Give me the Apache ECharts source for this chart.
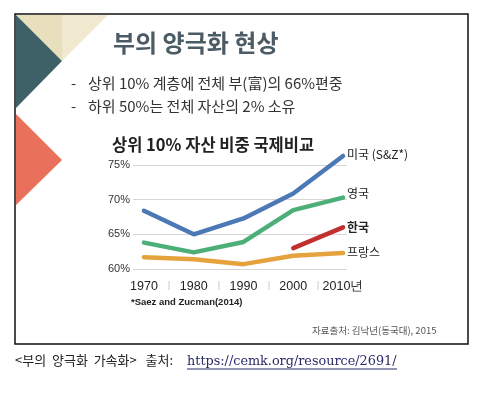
<!DOCTYPE html>
<html><head><meta charset="utf-8">
<script src="https://cdn.jsdelivr.net/npm/echarts@6/dist/echarts.min.js"></script>
<style>html,body{margin:0;padding:0;background:#fff}#c{width:483px;height:393px}</style>
</head><body><div id="c"></div>
<script>
const years = [1970, 1980, 1990, 2000, 2010];
const usa = [68.4, 65.0, 67.3, 70.9, 76.3];
const uk = [63.8, 62.4, 63.9, 68.5, 70.3];
const korea = [null, null, null, 63.0, 66.0];
const france = [61.7, 61.4, 60.7, 61.9, 62.3];
const seriesNames = ['미국 (S&Z*)', '영국', '한국', '프랑스'];
const yTicks = [60, 65, 70, 75];
const xSeparators = [1975, 1985, 1995, 2005];

const F = '"Noto Sans CJK KR", "Noto Sans", sans-serif';
const chart = echarts.init(document.getElementById('c'));
function pairs(arr){ return years.map((y,i)=>[y, arr[i]]).filter(p=>p[1]!=null); }
function mk(name, data, color, bold, dy){
  return {
    type:'line', name, data:pairs(data), symbol:'none', clip:false,
    lineStyle:{color, width:4.5, cap:'round'}, itemStyle:{color},
    endLabel:{show:true, formatter:name, distance:4, offset:[0,dy],
      color:'#222', fontFamily:F, fontSize:12, fontWeight: bold?'bold':'normal'}
  };
}
chart.setOption({
  animation:false,
  grid:{left:133, right:136, top:165, bottom:124},
  xAxis:[{
    type:'value', min:1967.8, max:2010.8,
    axisLine:{show:false}, axisTick:{show:false}, splitLine:{show:false},
    axisLabel:{customValues:years, margin:11, color:'#222', fontFamily:'Arial, "Liberation Sans", sans-serif', fontSize:12.5,
      formatter:v=> v===2010 ? '2010년' : String(v)}
  },{
    type:'value', min:1967.8, max:2010.8, position:'bottom', offset:12,
    axisLine:{show:false}, splitLine:{show:false}, axisLabel:{show:false},
    axisTick:{show:true, customValues:xSeparators, length:9, lineStyle:{color:'#ddd', width:1.5}}
  }],
  yAxis:{
    type:'value', min:60, max:75, interval:5,
    axisLine:{show:false}, axisTick:{show:false},
    splitLine:{lineStyle:{color:'#d6d6d6', width:1}},
    axisLabel:{customValues:yTicks, margin:3, color:'#333', fontFamily:'Arial, "Liberation Sans", sans-serif', fontSize:11, formatter:'{value}%'}
  },
  series:[
    mk(seriesNames[0], usa, '#4a79b6', false, -2),
    mk(seriesNames[1], uk, '#4daf78', false, -4),
    mk(seriesNames[2], korea, '#c1302f', true, 0),
    mk(seriesNames[3], france, '#e6a23c', false, -1)
  ],
  graphic:[
    {type:'rect', shape:{x:15,y:14,width:453,height:330}, style:{fill:'#fff', stroke:'#111', lineWidth:1.5}, z:-10},
    {type:'polygon', shape:{points:[[16,15],[62,15],[62,61]]}, style:{fill:'#e8dfbd'}},
    {type:'polygon', shape:{points:[[62,15],[108,15],[62,61]]}, style:{fill:'#f0e9d0'}},
    {type:'polygon', shape:{points:[[16,15],[62,61],[16,108]]}, style:{fill:'#3e6168'}},
    {type:'polygon', shape:{points:[[16,114],[62,160],[16,205]]}, style:{fill:'#e9705a'}},
    {type:'text', left:113, top:31, style:{text:'부의 양극화 현상', font:'bold 24px '+F, fill:'#4b5c66'}},
    {type:'text', left:71, top:76, style:{text:'-', font:'15px '+F, fill:'#333'}},
    {type:'text', left:88, top:76, style:{text:'상위 10% 계층에 전체 부(富)의 66%편중', font:'15px '+F, fill:'#333'}},
    {type:'text', left:71, top:99, style:{text:'-', font:'15px '+F, fill:'#333'}},
    {type:'text', left:88, top:99, style:{text:'하위 50%는 전체 자산의 2% 소유', font:'15px '+F, fill:'#333'}},
    {type:'text', left:112, top:136, style:{text:'상위 10% 자산 비중 국제비교', font:'bold 16.5px '+F, fill:'#222'}},
    {type:'text', left:131, top:297, style:{text:'*Saez and Zucman(2014)', font:'bold 9.5px Arial, "Liberation Sans", sans-serif', fill:'#222'}},
    {type:'text', left:312, top:326, style:{text:'자료출처: 김낙년(동국대), 2015', font:'9.5px '+F, fill:'#555'}},
    {type:'text', left:15, top:354, style:{text:'<부의  양극화  가속화>   출처: ', font:'13px '+F, fill:'#222'}},
    {type:'text', left:187, top:355, style:{text:'https://cemk.org/resource/2691/', font:'12.8px "DejaVu Serif", "Liberation Serif", serif', fill:'#2a2a6a'}},
    {type:'line', shape:{x1:187,y1:369,x2:397,y2:369}, style:{stroke:'#2a2a6a', lineWidth:1}}
  ]
});
</script></body></html>
